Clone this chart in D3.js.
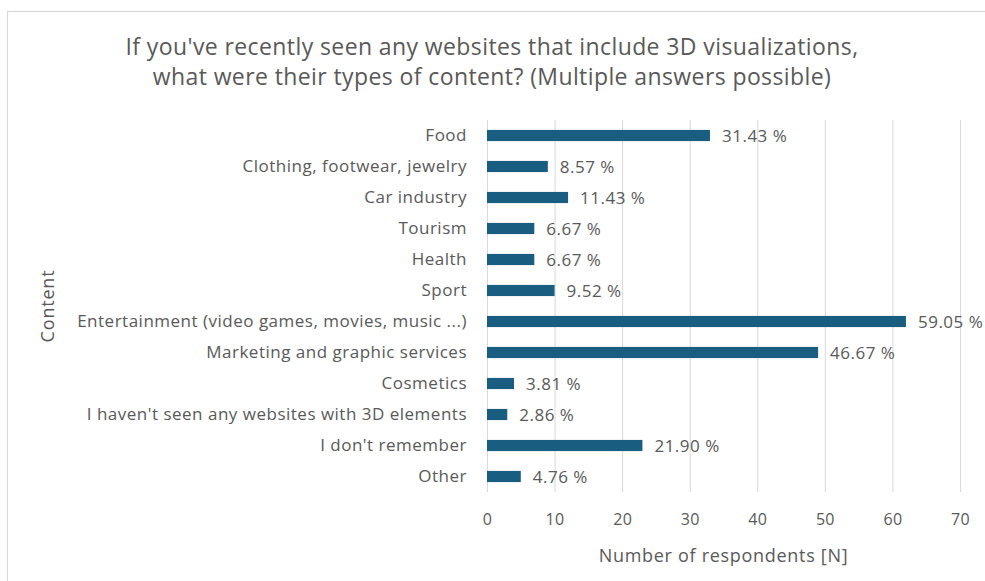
<!DOCTYPE html>
<html>
<head>
<meta charset="utf-8">
<script src="https://cdn.jsdelivr.net/npm/d3@7"></script>
<style>
  html, body { margin: 0; padding: 0; background: #ffffff; }
  svg { display: block; }
  text { font-family: "Open Sans", "Noto Sans", sans-serif; fill: #595959; }
</style>
</head>
<body>
<svg id="chart" width="985" height="581"></svg>
<script>
// Survey answers (N = 105 respondents)
const categories = [
  "Food",
  "Clothing, footwear, jewelry",
  "Car industry",
  "Tourism",
  "Health",
  "Sport",
  "Entertainment (video games, movies, music ...)",
  "Marketing and graphic services",
  "Cosmetics",
  "I haven't seen any websites with 3D elements",
  "I don't remember",
  "Other"
];
const respondents = [33, 9, 12, 7, 7, 10, 62, 49, 4, 3, 23, 5];
const percentLabels = ["31.43 %", "8.57 %", "11.43 %", "6.67 %", "6.67 %", "9.52 %",
                       "59.05 %", "46.67 %", "3.81 %", "2.86 %", "21.90 %", "4.76 %"];
const xTicks = [0, 10, 20, 30, 40, 50, 60, 70];
const titleLines = [
  "If you've recently seen any websites that include 3D visualizations,",
  "what were their types of content? (Multiple answers possible)"
];

const FONT = "'Open Sans', 'Noto Sans', sans-serif";
const svg = d3.select("#chart");

// chart area frame
svg.append("rect")
  .attr("x", 7.5).attr("y", 11.5)
  .attr("width", 1000).attr("height", 600)
  .attr("fill", "#ffffff")
  .attr("stroke", "#d9d9d9").attr("stroke-width", 1.2);

const plot = { left: 487, right: 960, top: 120, bottom: 492 };

const x = d3.scaleLinear().domain([0, 70]).range([plot.left, plot.right]);
const y = d3.scaleBand().domain(categories).range([plot.top, plot.bottom]).paddingInner(0.64).paddingOuter(0.32);

// vertical gridlines
svg.append("g").selectAll("line").data(xTicks).join("line")
  .attr("x1", d => x(d) + 0.5).attr("x2", d => x(d) + 0.5)
  .attr("y1", plot.top).attr("y2", plot.bottom)
  .attr("stroke", "#d9d9d9").attr("stroke-width", 1);

// x tick labels
const xAxis = d3.axisBottom(x).tickValues(xTicks).tickSize(0).tickPadding(0);
const gx = svg.append("g").attr("transform", `translate(0, ${plot.bottom + 22})`).call(xAxis);
gx.select(".domain").remove();
gx.selectAll("text").attr("font-size", 16).attr("fill", "#595959")
  .style("font-family", FONT).style("letter-spacing", "0.3px");

// category labels
const yAxis = d3.axisLeft(y).tickSize(0).tickPadding(0);
const gy = svg.append("g").attr("transform", `translate(${plot.left - 20}, 0)`).call(yAxis);
gy.select(".domain").remove();
gy.selectAll("text").attr("font-size", 17).attr("fill", "#595959")
  .style("font-family", FONT).style("letter-spacing", "0.5px");

// bars
svg.append("g").selectAll("rect").data(categories).join("rect")
  .attr("x", x(0))
  .attr("y", d => y(d))
  .attr("width", (d, i) => x(respondents[i]) - x(0))
  .attr("height", y.bandwidth())
  .attr("fill", "#195e80");

// value labels
svg.append("g").selectAll("text").data(categories).join("text")
  .attr("x", (d, i) => x(respondents[i]) + 12)
  .attr("y", d => y(d) + y.bandwidth() / 2)
  .attr("dy", "0.36em")
  .attr("font-size", 17)
  .style("letter-spacing", "0.5px")
  .text((d, i) => percentLabels[i]);

// title
svg.append("g").selectAll("text").data(titleLines).join("text")
  .attr("x", 492)
  .attr("y", (d, i) => 55 + i * 30)
  .attr("text-anchor", "middle")
  .attr("font-size", 23)
  .style("letter-spacing", "0.4px")
  .text(d => d);

// axis titles
svg.append("text")
  .attr("x", x(35)).attr("y", 562)
  .attr("text-anchor", "middle")
  .attr("font-size", 18)
  .style("letter-spacing", "0.7px")
  .text("Number of respondents [N]");

svg.append("text")
  .attr("transform", `translate(54, ${(plot.top + plot.bottom) / 2}) rotate(-90)`)
  .attr("text-anchor", "middle")
  .attr("font-size", 18)
  .style("letter-spacing", "0.8px")
  .text("Content");
</script>
</body>
</html>
